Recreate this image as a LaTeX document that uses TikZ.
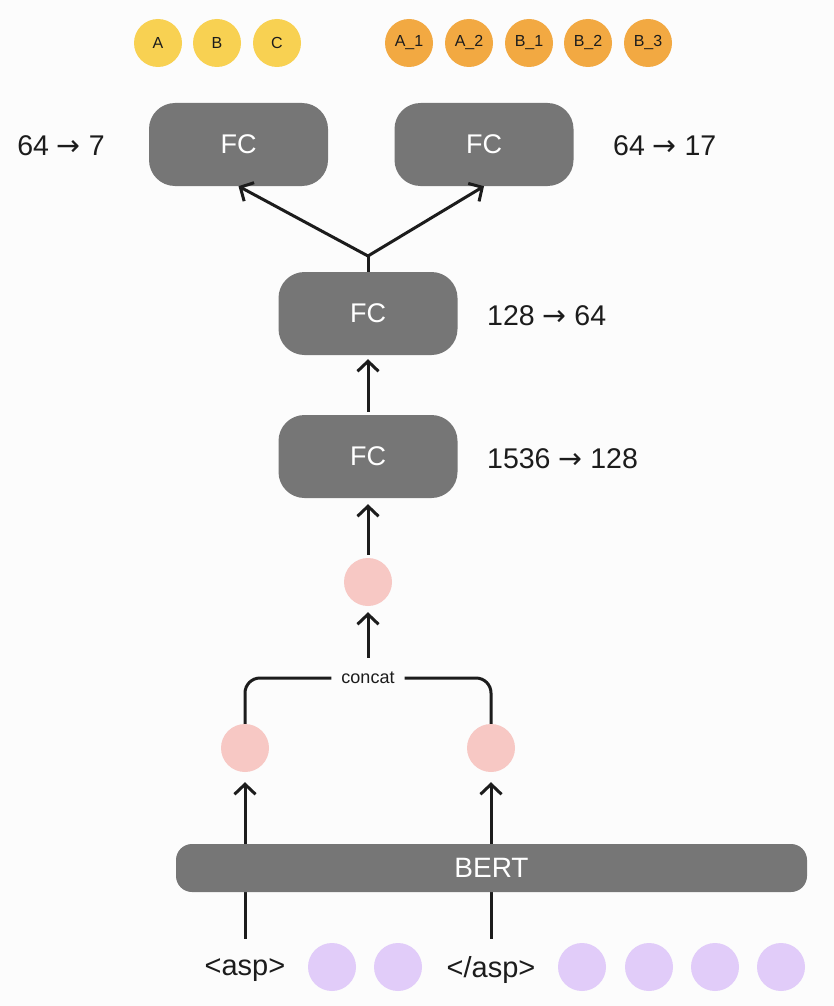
\documentclass[tikz,border=0pt]{standalone}
\usepackage{fontspec}
\setmainfont{Liberation Sans}
\newfontfamily\arrowfont{DejaVu Sans}
\usetikzlibrary{arrows.meta}

\definecolor{bgcol}{HTML}{FCFCFC}
\definecolor{boxgray}{HTML}{767676}
\definecolor{inkcol}{HTML}{1C1C1C}
\definecolor{yellowcol}{HTML}{F8D152}
\definecolor{orangecol}{HTML}{F2A942}
\definecolor{pinkcol}{HTML}{F7C8C4}
\definecolor{purplecol}{HTML}{E1CCF9}

\newcommand{\toarrow}{{\arrowfont →}}

\tikzset{
	fcbox/.style={fill=boxgray, rounded corners=26pt, minimum width=179pt, minimum height=83pt, text=white, font=\fontsize{27}{32}\selectfont},
	bertbox/.style={fill=boxgray, rounded corners=16pt, minimum width=631pt, minimum height=48pt, text=white, font=\fontsize{28}{32}\selectfont},
	dotnode/.style={circle, minimum size=48pt, inner sep=0pt, text=inkcol, font=\fontsize{16}{19}\selectfont},
	dimlabel/.style={text=inkcol, font=\fontsize{28.5}{33}\selectfont, inner sep=0pt},
	toklabel/.style={text=inkcol, font=\fontsize{29}{34}\selectfont, minimum height=62pt, inner sep=0pt},
	conn/.style={draw=inkcol, line width=3pt},
	arr/.style={conn, -{Straight Barb[length=10pt,width=21pt,line width=3pt]}}
}

\begin{document}
\begin{tikzpicture}[x=1pt,y=-1pt]
		\fill[bgcol] (0,0) rectangle (834,1006);
		\useasboundingbox (0,0) rectangle (834,1006);
		
		% output classes
		\node[dotnode, fill=yellowcol] (clsA) at (158,43) {A};
		\node[dotnode, fill=yellowcol] (clsB) at (217,43) {B};
		\node[dotnode, fill=yellowcol] (clsC) at (277,43) {C};
		\node[dotnode, fill=orangecol] (subAa) at (409,43) {A\_1};
		\node[dotnode, fill=orangecol] (subAb) at (469,43) {A\_2};
		\node[dotnode, fill=orangecol] (subBa) at (529,43) {B\_1};
		\node[dotnode, fill=orangecol] (subBb) at (588,43) {B\_2};
		\node[dotnode, fill=orangecol] (subBc) at (648,43) {B\_3};
		
		% heads
		\node[fcbox] (fcA) at (238.5,144.5) {FC};
		\node[fcbox] (fcB) at (484,144.5) {FC};
		\node[dimlabel] (dimA) at (61,146) {64 \toarrow{} 7};
		\node[dimlabel, anchor=west] (dimB) at (613,146) {64 \toarrow{} 17};
		
		\node[fcbox] (fcmid) at (368,313.5) {FC};
		\node[dimlabel, anchor=west] (dimmid) at (487,316) {128 \toarrow{} 64};
		
		\node[fcbox] (fclow) at (368,456.5) {FC};
		\node[dimlabel, anchor=west] (dimlow) at (487,459) {1536 \toarrow{} 128};
		
		\coordinate (split) at (368,256);
		\draw[conn] (fcmid.north) -- (split);
		\draw[arr] (split) -- (fcA.south);
		\draw[arr] (split) -- (fcB.south);
		\draw[arr, shorten <=3pt, shorten >=4pt] (fclow.north) -- (fcmid.south);
		
		% concatenated vector
		\node[dotnode, fill=pinkcol] (pcat) at (368,582) {};
		\draw[arr, shorten <=3pt, shorten >=6pt] (pcat.north) -- (fclow.south);
		
		\node[text=inkcol, font=\fontsize{18}{21}\selectfont, minimum width=73pt, minimum height=40pt, inner sep=0pt] (concat) at (368,678) {concat};
		\draw[arr, shorten >=6pt] (concat.north) -- (pcat.south);
		
		\node[dotnode, fill=pinkcol] (pleft) at (245,748) {};
		\node[dotnode, fill=pinkcol] (pright) at (491,748) {};
		\draw[conn, rounded corners=15pt] (pleft.north) |- (concat.west);
		\draw[conn, rounded corners=15pt] (concat.east) -| (pright.north);
		
		% input tokens
		\node[toklabel] (tokopen) at (245,970) {<asp>};
		\node[dotnode, fill=purplecol] (wa) at (332,967) {};
		\node[dotnode, fill=purplecol] (wb) at (398,967) {};
		\node[toklabel] (tokclose) at (491,970) {</asp>};
		\node[dotnode, fill=purplecol] (wc) at (582,967) {};
		\node[dotnode, fill=purplecol] (wd) at (649,967) {};
		\node[dotnode, fill=purplecol] (we) at (715,967) {};
		\node[dotnode, fill=purplecol] (wf) at (781,967) {};
		
		\draw[arr, shorten >=10pt] (tokopen.north) -- (pleft.south);
		\draw[arr, shorten >=10pt] (tokclose.north) -- (pright.south);
		
		\node[bertbox] (bert) at (491.5,868) {BERT};
	\end{tikzpicture}
\end{document}
